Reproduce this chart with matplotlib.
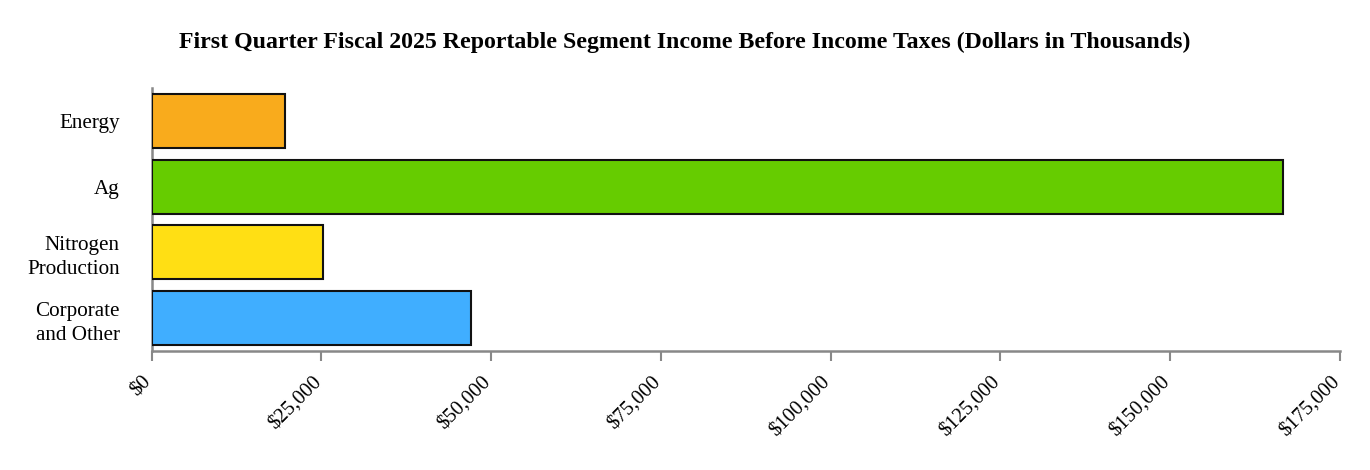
import numpy as np
import matplotlib as mpl
import matplotlib.pyplot as plt
from matplotlib.ticker import FuncFormatter

mpl.rcParams.update({
    "font.family": "serif",
    "font.serif": ["Liberation Serif", "DejaVu Serif"],
})

# ---------------------------------------------------------------- data
segments = ["Energy", "Ag", "Nitrogen\nProduction", "Corporate\nand Other"]
income = [19700, 166700, 25300, 47100]   # dollars in thousands
colors = ["#F9AB1C", "#66CC00", "#FFDF14", "#40AEFF"]
xticks = [0, 25000, 50000, 75000, 100000, 125000, 150000, 175000]

# ---------------------------------------------------------------- figure
fig = plt.figure(figsize=(13.7, 4.7), dpi=100)
ax = fig.add_axes([0.1107, 0.2532, 0.8672, 0.5596])

ypos = np.arange(len(segments))
ax.barh(ypos, income, height=0.82, color=colors, edgecolor="#111111",
        linewidth=1.5, zorder=3)

ax.set_ylim(len(segments) - 0.5, -0.5)
ax.set_xlim(0, 175000)
ax.set_yticks(ypos)
ax.set_yticklabels(segments, fontsize=15.2, linespacing=1.38)
ax.set_xticks(xticks)
ax.xaxis.set_major_formatter(FuncFormatter(lambda v, p: f"${v:,.0f}"))
for lab in ax.get_xticklabels():
    lab.set_rotation(45)
    lab.set_ha("right")
    lab.set_va("baseline")
    lab.set_rotation_mode("anchor")
    lab.set_fontsize(14.8)

ax.tick_params(axis="y", length=0, pad=23)
ax.tick_params(axis="x", length=7, width=1.5, color="#888888", pad=15.5)

for s in ("top", "right"):
    ax.spines[s].set_visible(False)
for s in ("left", "bottom"):
    ax.spines[s].set_color("#888888")
    ax.spines[s].set_linewidth(1.8)

fig.suptitle("First Quarter Fiscal 2025 Reportable Segment Income Before Income Taxes (Dollars in Thousands)",
             x=0.5, y=0.932, fontsize=17.2, fontweight="bold")

fig.savefig("out.png", dpi=100)
plt.close(fig)
